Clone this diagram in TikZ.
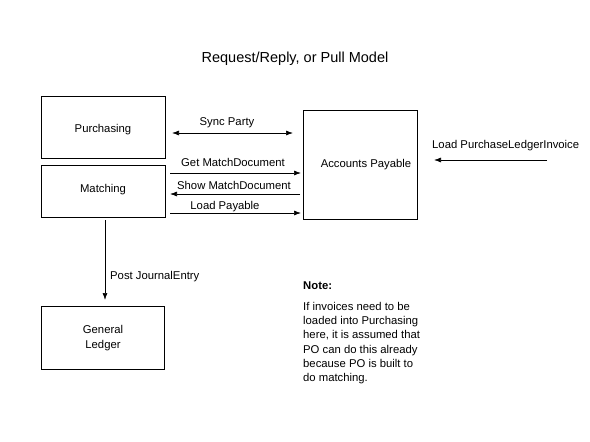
\documentclass[tikz,border=0pt]{standalone}
\usepackage{fontspec}
\setmainfont{Liberation Sans}
\usetikzlibrary{arrows.meta}
\begin{document}
\begin{tikzpicture}[x=1pt,y=-1pt,
  box/.style={draw,line width=0.8pt,inner sep=0pt},
  conn/.style={line width=0.7pt,-{Latex[length=7pt,width=5pt]}},
  lbl/.style={font=\fontsize{11.3}{13}\selectfont,inner sep=0pt},
  every node/.style={font=\fontsize{11.3}{13}\selectfont}]
\useasboundingbox[fill=white] (0,0) rectangle (590,442);
\node[font=\fontsize{14.5}{16}\selectfont] (title) at (295,59) {Request/Reply, or Pull Model};
\draw[box] (41,96) rectangle (165,158);
\node (purch) at (103,130) {Purchasing};
\draw[box] (41,165) rectangle (165,217);
\node (match) at (103,190) {Matching};
\coordinate (matchB) at (105,220);
\draw[box] (303,110) rectangle (417,219);
\node (ap) at (366,165) {Accounts Payable};
\draw[box] (41,306) rectangle (164,369);
\node[align=center,font=\fontsize{11.3}{15}\selectfont] (gl) at (103,338) {General\\Ledger};
\coordinate (glT) at (105,300);
% connectors
\coordinate (s1) at (172,133); \coordinate (s2) at (293,133);
\draw[line width=0.7pt,{Latex[length=7pt,width=5pt]}-{Latex[length=7pt,width=5pt]}] (s1) -- (s2);
\node[lbl] (syncl) at (227,123) {Sync Party};
\coordinate (g1) at (170,173); \coordinate (g2) at (301,173);
\draw[conn] (g1) -- (g2);
\node[lbl] (getl) at (233,162) {Get MatchDocument};
\coordinate (h1) at (300,194); \coordinate (h2) at (170,194);
\draw[conn] (h1) -- (h2);
\node[lbl] (showl) at (234,185) {Show MatchDocument};
\coordinate (l1) at (170,213); \coordinate (l2) at (301,213);
\draw[conn] (l1) -- (l2);
\node[lbl] (loadl) at (225,207) {Load Payable};
\coordinate (p1) at (547,160); \coordinate (p2) at (434,160);
\draw[conn] (p1) -- (p2);
\node[lbl,anchor=west] (plil) at (432,146) {Load PurchaseLedgerInvoice};
\draw[conn] (matchB) -- (glT);
\node[lbl,anchor=west] (postl) at (110,277) {Post JournalEntry};
% note
\node[lbl,anchor=west,font=\bfseries\fontsize{11.3}{13}\selectfont] (note) at (303,286) {Note:};
\node[anchor=north west,align=left,inner sep=0pt,font=\fontsize{11.3}{14.3}\selectfont] (notetext) at (303,302)
 {If invoices need to be\\loaded into Purchasing\\here, it is assumed that\\PO can do this already\\because PO is built to\\do matching.};
\end{tikzpicture}
\end{document}
